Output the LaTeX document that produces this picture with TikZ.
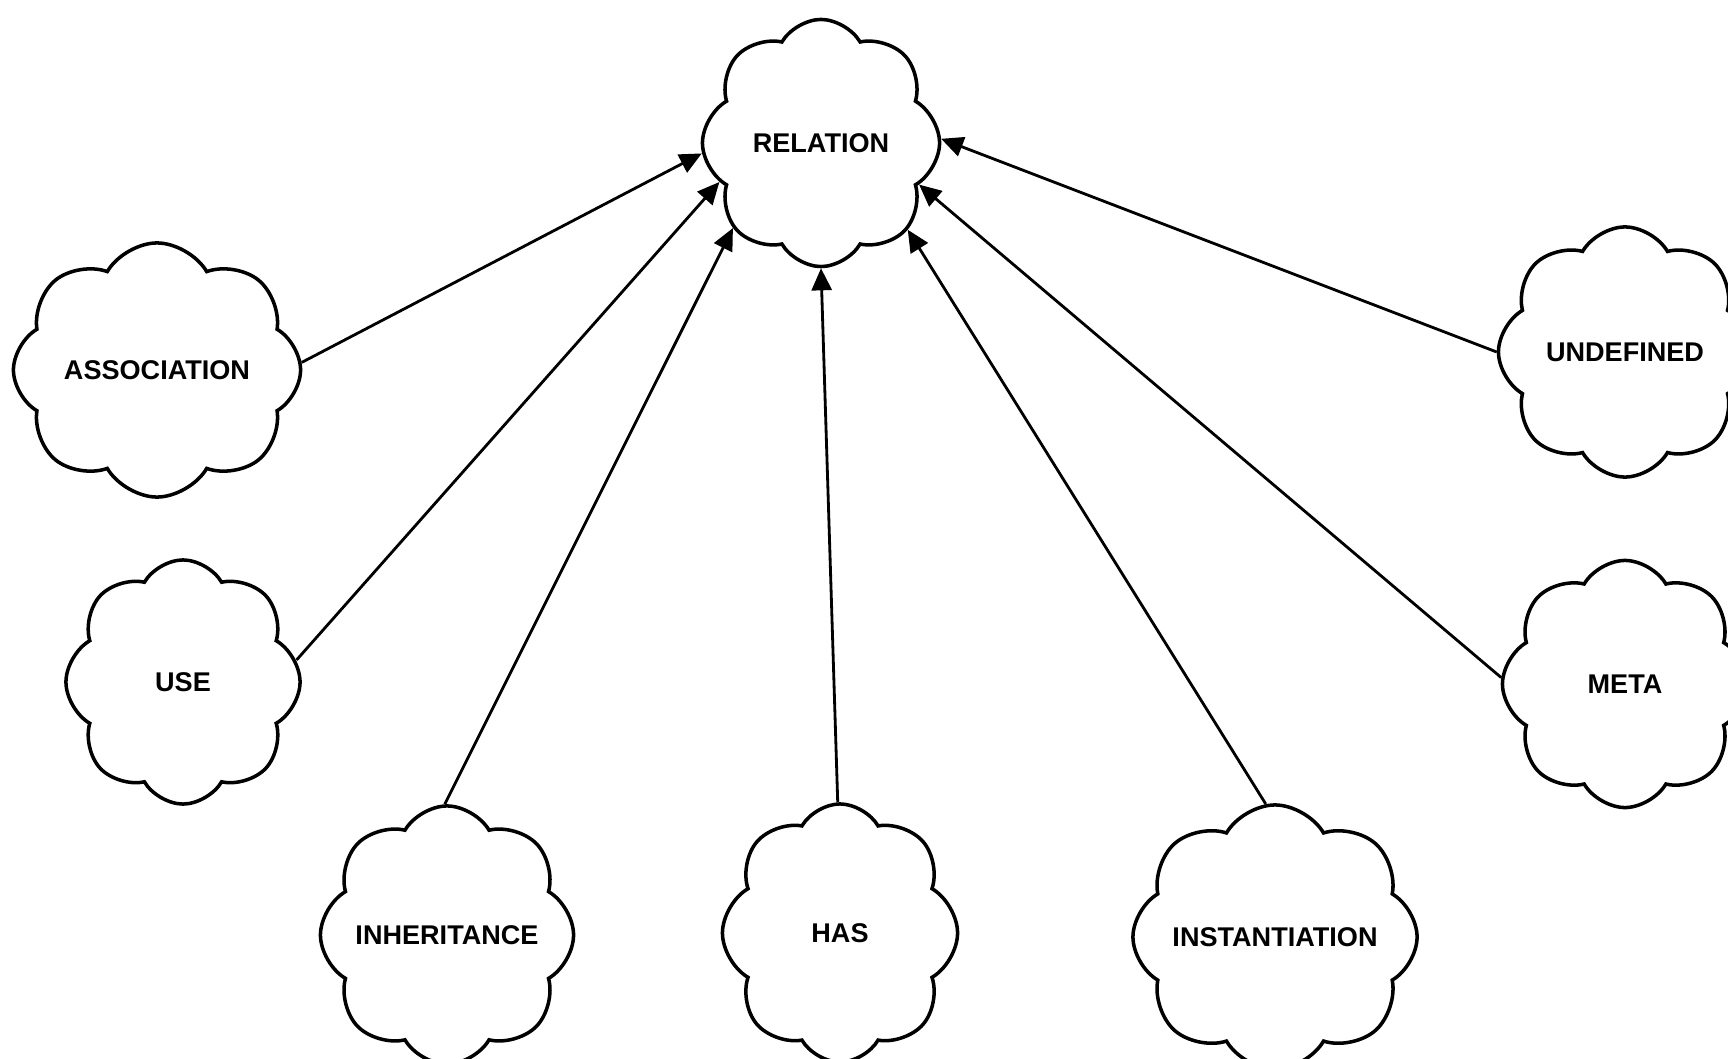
\documentclass[tikz,border=0pt]{standalone}
\usepackage{fontspec}
\setmainfont{Liberation Sans}
\usetikzlibrary{arrows.meta,shapes.symbols}

\begin{document}
\begin{tikzpicture}[x=0.01cm,y=-0.01cm,>={Triangle[length=0.22cm,width=0.2cm]},
  blob/.style={cloud,draw,line width=1pt,cloud puffs=8,cloud puff arc=120,cloud ignores aspect,inner sep=0pt,font=\bfseries\fontsize{7.7}{9}\selectfont},
  link/.style={->,line width=0.8pt}]
  \useasboundingbox (0,0) rectangle (1728,1058);
  \clip (0,0) rectangle (1728,1058);
  \node[blob,minimum width=2.37cm,minimum height=2.47cm] (rel) at (821,143) {\makebox[0pt]{RELATION}};
  \node[blob,minimum width=2.87cm,minimum height=2.54cm] (assoc) at (157,370) {\makebox[0pt]{ASSOCIATION}};
  \node[blob,minimum width=2.34cm,minimum height=2.44cm] (use) at (183,682) {\makebox[0pt]{USE}};
  \node[blob,minimum width=2.53cm,minimum height=2.58cm] (inher) at (447,935) {\makebox[0pt]{INHERITANCE}};
  \node[blob,minimum width=2.35cm,minimum height=2.58cm] (has) at (840,933) {\makebox[0pt]{HAS}};
  \node[blob,minimum width=2.84cm,minimum height=2.64cm] (inst) at (1275,937) {\makebox[0pt]{INSTANTIATION}};
  \node[blob,minimum width=2.53cm,minimum height=2.5cm] (undef) at (1625,352) {\makebox[0pt]{UNDEFINED}};
  \node[blob,minimum width=2.45cm,minimum height=2.47cm] (meta) at (1625,684) {\makebox[0pt]{META}};
  \draw[link] (assoc.3) -- (rel.185);
  \draw[link] (use.11) -- (rel.201);
  \draw[link] (inher.91) -- (rel.224);
  \draw[link] (has.91) -- (rel.270);
  \draw[link] (inst.94) -- (rel.315);
  \draw[link] (meta.177) -- (rel.337);
  \draw[link] (undef.180) -- (rel.2);
\end{tikzpicture}
\end{document}
